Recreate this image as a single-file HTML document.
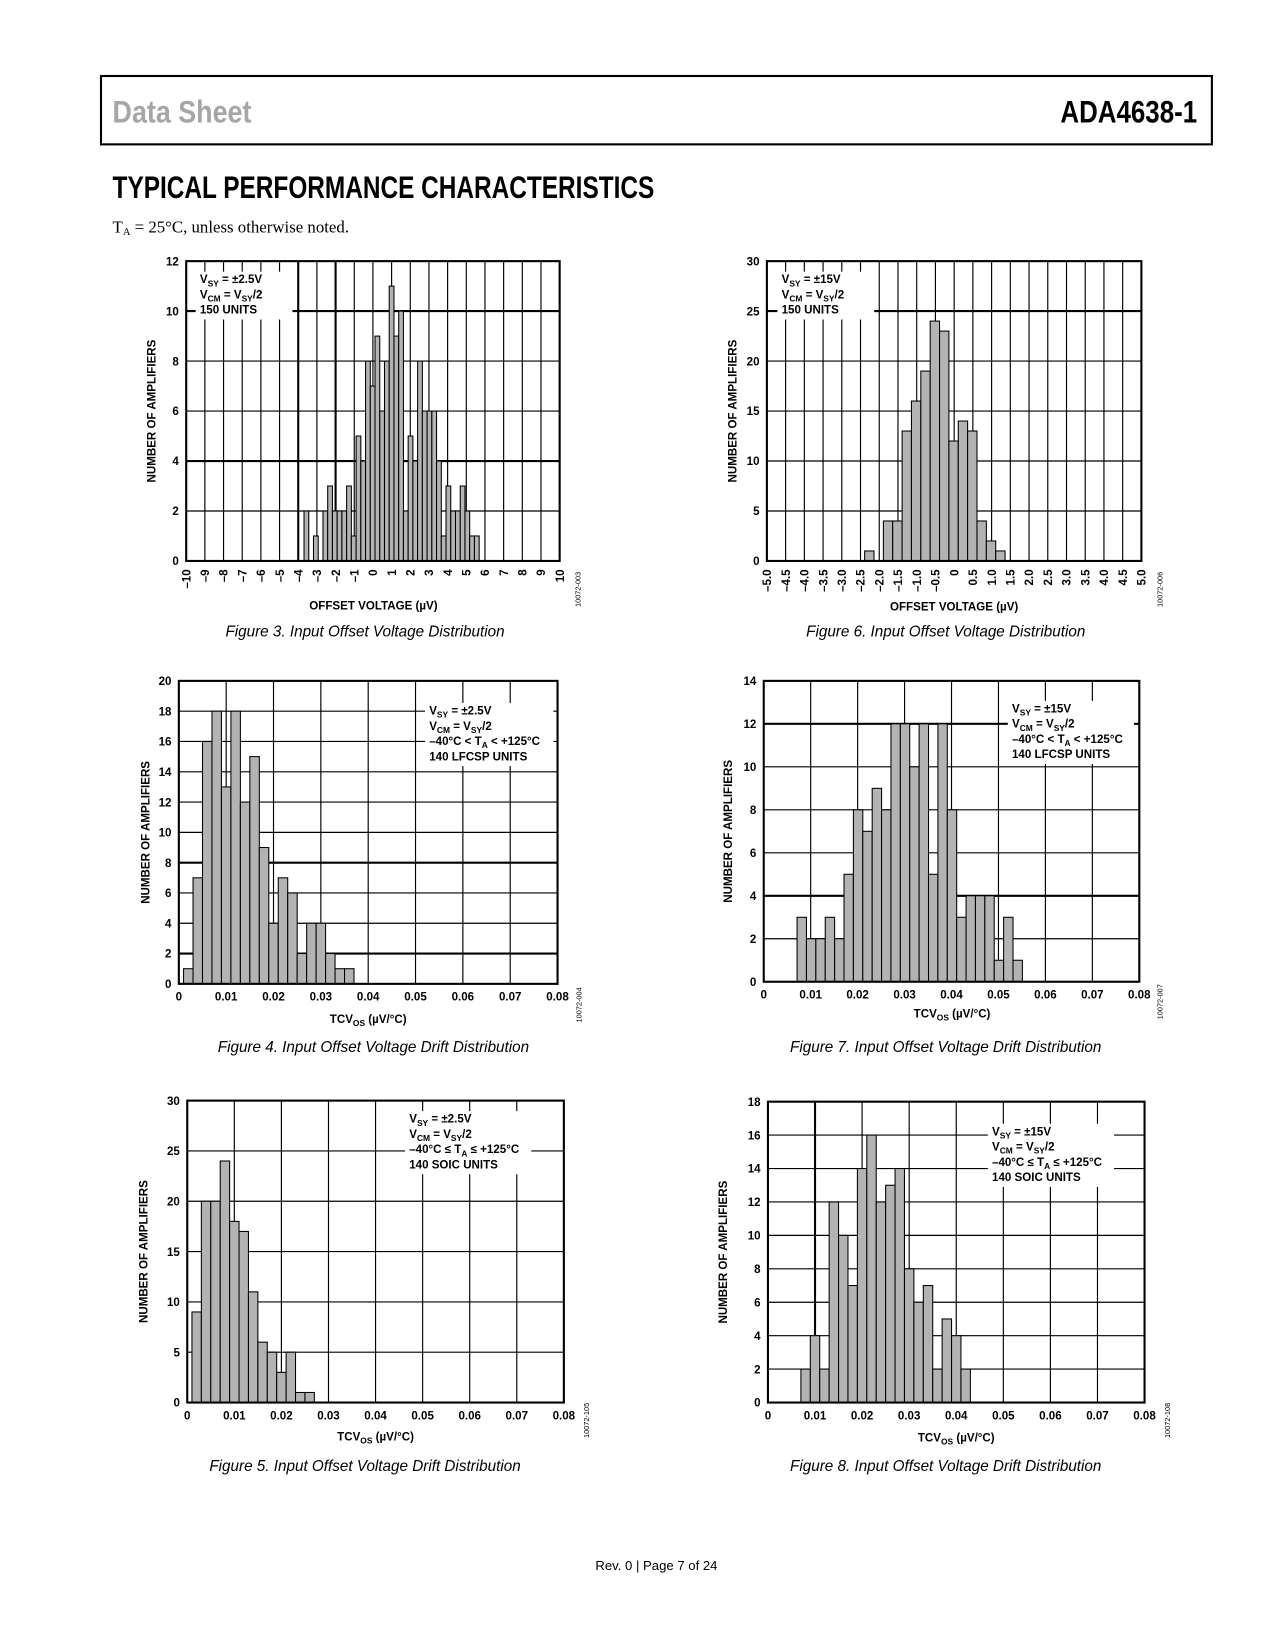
<!DOCTYPE html>
<html><head><meta charset="utf-8"><style>
html,body{margin:0;padding:0;background:#fff;}
svg{display:block;}
text{font-family:"Liberation Sans",Arial,sans-serif;}
.b{font-weight:bold;font-size:11px;}
.cap{font-family:"Liberation Sans",sans-serif;font-style:italic;font-size:14.5px;}
</style></head><body>
<svg id="pg" width="1275" height="1650" viewBox="0 0 1212 1568" xmlns="http://www.w3.org/2000/svg">
<rect x="96" y="72" width="1056" height="65" fill="none" stroke="#000" stroke-width="2"/>
<text x="107" y="116" font-family="Liberation Sans Narrow, Liberation Sans, sans-serif" font-weight="bold" font-size="30" fill="#a6a6a6" textLength="132" lengthAdjust="spacingAndGlyphs">Data Sheet</text>
<text x="1138" y="116" text-anchor="end" font-family="Liberation Sans Narrow, Liberation Sans, sans-serif" font-weight="bold" font-size="30" textLength="130" lengthAdjust="spacingAndGlyphs">ADA4638-1</text>
<text x="107" y="188" font-family="Liberation Sans Narrow, Liberation Sans, sans-serif" font-weight="bold" font-size="30" textLength="515" lengthAdjust="spacingAndGlyphs">TYPICAL PERFORMANCE CHARACTERISTICS</text>
<text x="107" y="221" style="font-family:'Liberation Serif',serif" font-size="16">T<tspan font-size="10" dy="2">A</tspan><tspan dy="-2"> = 25°C, unless otherwise noted.</tspan></text>
<text x="624" y="1492" text-anchor="middle" font-size="12.5">Rev. 0 | Page 7 of 24</text>
<g id="charts"></g>
</svg>
<script>
// Figure 3
const f3Start=-3.69, f3Width=0.2535;
const f3Values=[2,0,1,0,2,3,2,2,2,3,1,5,4,8,7,9,6,8,11,9,10,2,5,4,8,6,6,6,4,1,3,2,2,3,2,1,1];
const f3XTicks=[-10,-9,-8,-7,-6,-5,-4,-3,-2,-1,0,1,2,3,4,5,6,7,8,9,10];
const f3YTicks=[0,2,4,6,8,10,12];
// Figure 6
const f6Start=-2.39, f6Width=0.25;
const f6Values=[1,0,4,4,13,16,19,24,23,12,14,13,4,2,1];
const f6XTicks=["–5.0","–4.5","–4.0","–3.5","–3.0","–2.5","–2.0","–1.5","–1.0","–0.5","0","0.5","1.0","1.5","2.0","2.5","3.0","3.5","4.0","4.5","5.0"];
const f6YTicks=[0,5,10,15,20,25,30];
// Figure 4
const f4Start=0.001, f4Width=0.002;
const f4Values=[1,7,16,18,13,18,12,15,9,4,7,6,2,4,4,2,1,1];
// Figure 7
const f7Start=0.0071, f7Width=0.002;
const f7Values=[3,2,2,3,2,5,8,7,9,8,12,12,10,12,5,12,8,3,4,4,4,1,3,1];
// Figure 5
const f5Start=0.001, f5Width=0.002;
const f5Values=[9,20,20,24,18,17,11,6,5,3,5,1,1];
// Figure 8
const f8Start=0.007, f8Width=0.002;
const f8Values=[2,4,2,12,10,7,14,16,12,13,14,8,6,7,2,5,4,2];
const tcXTicks=["0","0.01","0.02","0.03","0.04","0.05","0.06","0.07","0.08"];
const f4YTicks=[0,2,4,6,8,10,12,14,16,18,20];
const f7YTicks=[0,2,4,6,8,10,12,14];
const f5YTicks=[0,5,10,15,20,25,30];
const f8YTicks=[0,2,4,6,8,10,12,14,16,18];

const NS="http://www.w3.org/2000/svg";
const root=document.getElementById('charts');
function mk(tag,attrs,parent){const e=document.createElementNS(NS,tag);for(const k in attrs)e.setAttribute(k,attrs[k]);(parent||root).appendChild(e);return e;}

function chart(c){
  const g=mk('g',{});
  
  
  const X=v=>c.L+(v-c.xmin)/(c.xmax-c.xmin)*(c.R-c.L);
  const Y=v=>c.B-(v-c.ymin)/(c.ymax-c.ymin)*(c.B-c.T);
  for(let i=0;i<c.vgrid.length;i++){const v=c.vgrid[i];
    const l=mk('line',{x1:X(v),x2:X(v),y1:c.T,y2:c.B,stroke:'#000','stroke-width':c.boldV.includes(v)?2:1.1},g);
    
    }
  for(let i=0;i<c.yTicks.length;i++){const v=c.yTicks[i];
    const l=mk('line',{x1:c.L,x2:c.R,y1:Y(v),y2:Y(v),stroke:'#000','stroke-width':c.boldH.includes(v)?2:1.1},g);
    
    
    const t=mk('text',{x:c.L-7,y:Y(v)+4,'text-anchor':'end',class:'b'},g);t.textContent=v;
    
    }
  const lg=mk('g',{},g);
  
  
  mk('rect',{x:c.lx-4,y:c.ly-11,width:c.lw,height:c.lines.length*14.5+2,fill:'#fff'},lg);
  c.lines.forEach((h,i)=>{const t=mk('text',{x:c.lx,y:c.ly+i*14.5,class:'b'},lg);t.innerHTML=h;});
  c.values.forEach((v,i)=>{if(!v)return;const x0=c.start+i*c.width;
    const r=mk('rect',{x:X(x0),y:Y(v),width:X(x0+c.width)-X(x0),height:Y(0)-Y(v),fill:'#b3b3b3',stroke:'#000','stroke-width':1},g);
    
    });
  const fr=mk('rect',{x:c.L,y:c.T,width:c.R-c.L,height:c.B-c.T,fill:'none',stroke:'#000','stroke-width':2},g);
  
  
  c.xTicks.forEach((lab,i)=>{const v=c.xmin+i*(c.xmax-c.xmin)/(c.xTicks.length-1);let t;
    if(c.rot){t=mk('text',{x:X(v)+4,y:c.B+8,'text-anchor':'end',class:'b',transform:`rotate(-90 ${X(v)+4} ${c.B+8})`},g);}
    else t=mk('text',{x:X(v),y:c.B+16,'text-anchor':'middle',class:'b'},g);
    t.textContent=String(lab).replace('-','–');
    
    });
  const xt=mk('text',{x:c.xlx,y:c.xly,'text-anchor':'middle',class:'b'},g);xt.innerHTML=c.xlabel;
  
  
  const yt=mk('text',{x:c.ylx,y:(c.T+c.B)/2,'text-anchor':'middle',class:'b',transform:`rotate(-90 ${c.ylx} ${(c.T+c.B)/2})`},g);yt.textContent='NUMBER OF AMPLIFIERS';
  
  
  const id=mk('text',{x:c.idx,y:c.idy,'text-anchor':'middle','font-size':7,transform:`rotate(-90 ${c.idx} ${c.idy})`},g);id.textContent=c.id;
  
  
  const cp=mk('text',{x:c.cx,y:c.cy,'text-anchor':'middle',class:'cap'},g);cp.textContent=c.caption;
  
  
}
const sub=s=>`<tspan font-size="8" dy="3">${s}</tspan><tspan dy="-3">`;
const l1=(v)=>`V${sub('SY')} = ${v}</tspan>`;
const l2=`V${sub('CM')} = V</tspan>${sub('SY')}/2</tspan>`;
const tcx=`TCV${sub('OS')} (µV/°C)</tspan>`;
const rng=(a,b,s)=>{const r=[];for(let v=a;v<=b+1e-9;v+=s)r.push(+v.toFixed(4));return r;};

chart({name:'figure-3-chart',L:177,R:532,T:248,B:533,xmin:-10,xmax:10,ymin:0,ymax:12,vgrid:rng(-9,9,1),boldV:[-4,-2],boldH:[4,10],yTicks:f3YTicks,xTicks:f3XTicks,rot:true,values:f3Values,start:f3Start,width:f3Width,
 lx:190,ly:269,lw:92,lines:[l1('±2.5V'),l2,'150 UNITS'],xlabel:'OFFSET VOLTAGE (µV)',xlx:355,xly:579,ylx:148,id:'10072-003',idx:552,idy:560,caption:'Figure 3. Input Offset Voltage Distribution',cx:347,cy:605});
chart({name:'figure-6-chart',L:729,R:1085,T:248,B:533,xmin:-5,xmax:5,ymin:0,ymax:30,vgrid:rng(-4.5,4.5,0.5),boldV:[],boldH:[25],yTicks:f6YTicks,xTicks:f6XTicks,rot:true,values:f6Values,start:f6Start,width:f6Width,
 lx:743,ly:269,lw:92,lines:[l1('±15V'),l2,'150 UNITS'],xlabel:'OFFSET VOLTAGE (µV)',xlx:907,xly:580,ylx:700,id:'10072-006',idx:1105,idy:560,caption:'Figure 6. Input Offset Voltage Distribution',cx:899,cy:605});
chart({name:'figure-4-chart',L:170,R:530,T:647,B:935,xmin:0,xmax:0.08,ymin:0,ymax:20,vgrid:rng(0.01,0.07,0.01),boldV:[],boldH:[8,2],yTicks:f4YTicks,xTicks:tcXTicks,rot:false,values:f4Values,start:f4Start,width:f4Width,
 lx:408,ly:679,lw:122,lines:[l1('±2.5V'),l2,'–40°C &lt; T'+sub('A')+' &lt; +125°C</tspan>','140 LFCSP UNITS'],xlabel:tcx,xlx:350,xly:972,ylx:142,id:'10072-004',idx:553,idy:955,caption:'Figure 4. Input Offset Voltage Drift Distribution',cx:355,cy:1000});
chart({name:'figure-7-chart',L:726,R:1083,T:647,B:933,xmin:0,xmax:0.08,ymin:0,ymax:14,vgrid:rng(0.01,0.07,0.01),boldV:[],boldH:[12,4],yTicks:f7YTicks,xTicks:tcXTicks,rot:false,values:f7Values,start:f7Start,width:f7Width,
 lx:962,ly:677,lw:120,lines:[l1('±15V'),l2,'–40°C &lt; T'+sub('A')+' &lt; +125°C</tspan>','140 LFCSP UNITS'],xlabel:tcx,xlx:905,xly:967,ylx:696,id:'10072-007',idx:1105,idy:952,caption:'Figure 7. Input Offset Voltage Drift Distribution',cx:899,cy:1000});
chart({name:'figure-5-chart',L:178,R:536,T:1046,B:1333,xmin:0,xmax:0.08,ymin:0,ymax:30,vgrid:rng(0.01,0.07,0.01),boldV:[],boldH:[],yTicks:f5YTicks,xTicks:tcXTicks,rot:false,values:f5Values,start:f5Start,width:f5Width,
 lx:389,ly:1067,lw:120,lines:[l1('±2.5V'),l2,'–40°C ≤ T'+sub('A')+' ≤ +125°C</tspan>','140 SOIC UNITS'],xlabel:tcx,xlx:357,xly:1369,ylx:140,id:'10072-105',idx:560,idy:1350,caption:'Figure 5. Input Offset Voltage Drift Distribution',cx:347,cy:1398});
chart({name:'figure-8-chart',L:730,R:1088,T:1047,B:1333,xmin:0,xmax:0.08,ymin:0,ymax:18,vgrid:rng(0.01,0.07,0.01),boldV:[0.01],boldH:[],yTicks:f8YTicks,xTicks:tcXTicks,rot:false,values:f8Values,start:f8Start,width:f8Width,
 lx:943,ly:1079,lw:120,lines:[l1('±15V'),l2,'–40°C ≤ T'+sub('A')+' ≤ +125°C</tspan>','140 SOIC UNITS'],xlabel:tcx,xlx:909,xly:1370,ylx:691,id:'10072-108',idx:1112,idy:1350,caption:'Figure 8. Input Offset Voltage Drift Distribution',cx:899,cy:1398});
</script>
</body></html>
